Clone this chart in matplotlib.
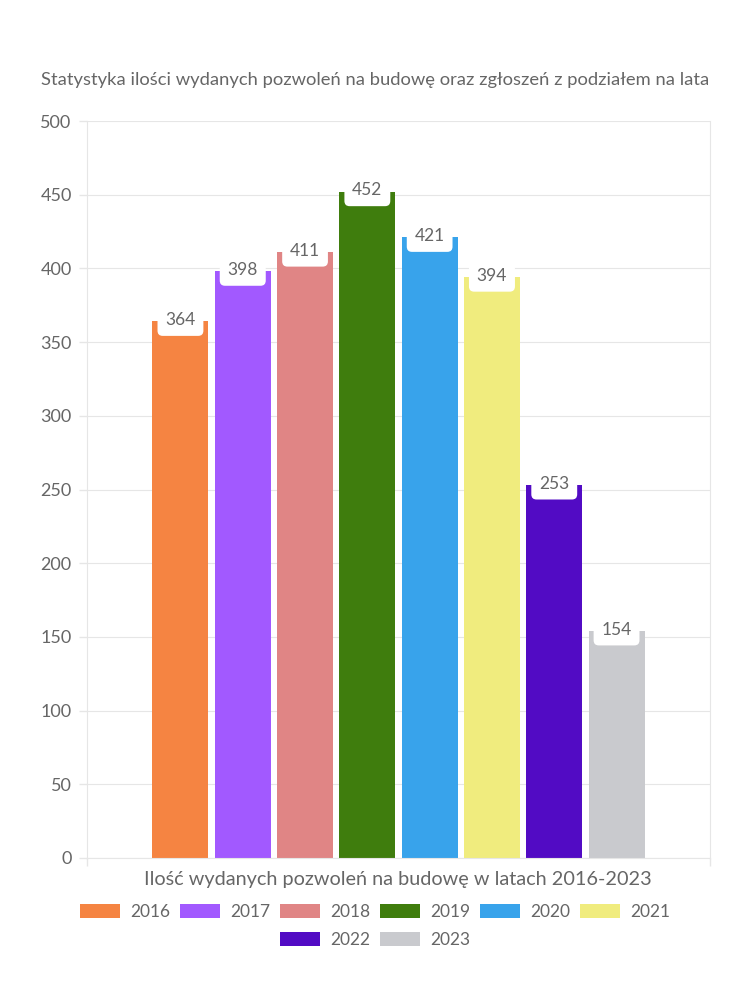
import matplotlib.pyplot as plt
import matplotlib as mpl
from matplotlib.patches import Patch

mpl.rcParams['font.family'] = ['Lato', 'DejaVu Sans']

# dane
years = ['2016', '2017', '2018', '2019', '2020', '2021', '2022', '2023']
permits = [364, 398, 411, 452, 421, 394, 253, 154]
colors = ['#F58442', '#A259FF', '#E08585', '#3F7D0D',
          '#38A3EB', '#F0EC7E', '#520BC4', '#C9CACE']
yticks = [0, 50, 100, 150, 200, 250, 300, 350, 400, 450, 500]

title = 'Statystyka ilości wydanych pozwoleń na budowę oraz zgłoszeń z podziałem na lata'
xlabel = 'Ilość wydanych pozwoleń na budowę w latach 2016-2023'

txt = '#666666'
grid_c = '#E6E6E6'

fig = plt.figure(figsize=(7.5, 10), dpi=100)
ax = fig.add_axes([87/750, 1-858/1000, (710-87)/750, (858-121)/1000])

n = len(years)
slot = 0.8 / n
for i, (yr, v, c) in enumerate(zip(years, permits, colors)):
    x = (i - (n - 1) / 2) * slot
    ax.bar(x, v, width=slot * 0.9, color=c, zorder=2)
    ax.annotate(str(v), (x, v), xytext=(0, 1), textcoords='offset points',
                ha='center', va='center', fontsize=12.5, color=txt, zorder=4,
                bbox=dict(boxstyle='round,pad=0.45,rounding_size=0.3',
                          fc='white', ec='none'))

ax.set_xlim(-0.5, 0.5)
ax.set_ylim(0, 500)
ax.set_yticks(yticks)
ax.set_yticklabels([str(t) for t in yticks], fontsize=13, color=txt)
ax.set_xticks([-0.5, 0.5])
ax.set_xticklabels(['', ''])
ax.tick_params(axis='both', length=6, color=grid_c, width=1, pad=5)
ax.yaxis.grid(True, color=grid_c, lw=0.8, zorder=0)
for s in ['top', 'right', 'left', 'bottom']:
    ax.spines[s].set_color(grid_c)
    ax.spines[s].set_linewidth(0.8)
ax.spines['top'].set_visible(False)

fig.text(375/750, 1-80/1000, title, ha='center', va='center', fontsize=13.2, color=txt)
fig.text(398/750, 1-880/1000, xlabel, ha='center', va='center', fontsize=14.3, color=txt)

# legenda w dwóch wierszach, oba wyśrodkowane
handles = [Patch(facecolor=c, edgecolor='none') for c in colors]
leg_kw = dict(loc='center', frameon=False, fontsize=12.5, labelcolor=txt,
              handlelength=2.3, handleheight=0.9, columnspacing=0.55,
              handletextpad=0.6)
fig.legend(handles[:6], years[:6], ncol=6,
           bbox_to_anchor=(375/750, 1-912/1000), **leg_kw)
fig.legend(handles[6:], years[6:], ncol=2,
           bbox_to_anchor=(375/750, 1-940/1000), **leg_kw)

fig.savefig('out.png', dpi=100, facecolor='white')
